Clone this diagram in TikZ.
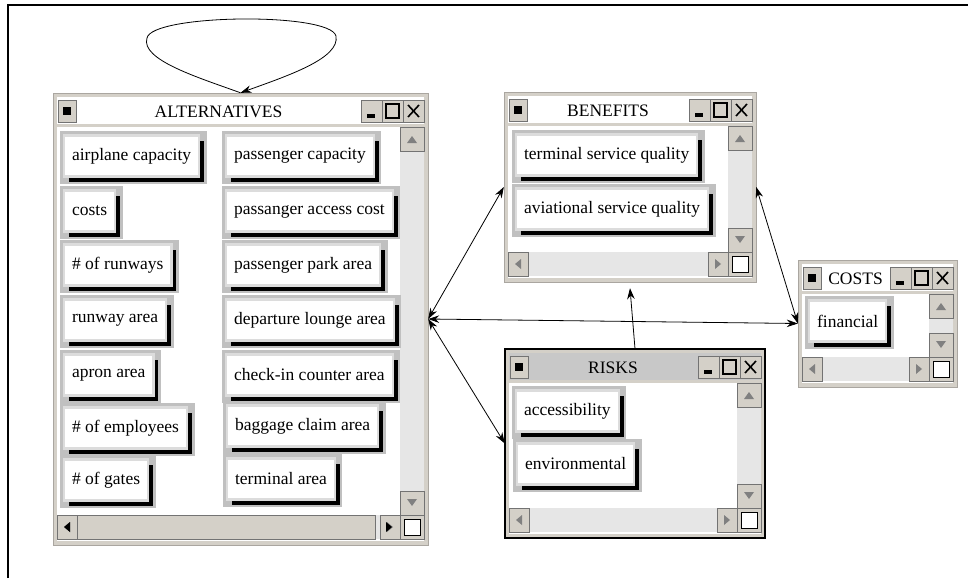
\documentclass[tikz,border=0pt]{standalone}
\usepackage{fontspec}
\setmainfont{Liberation Serif}
\usetikzlibrary{arrows.meta, fit, calc}

\definecolor{winbg}{HTML}{D4D0C8}
\definecolor{panelgray}{HTML}{C0C0C0}
\definecolor{bevelgray}{HTML}{DCDCDC}
\definecolor{trackgray}{HTML}{E6E6E6}
\definecolor{activegray}{HTML}{C8C8C8}

% window chrome: [title bar fill]{name}{left}{top}{right}{bottom}{title}
\newcommand{\appwin}[7][white]{%
	\filldraw[fill=winbg, draw=winbg!80!black, line width=0.8pt] (#3,#4) rectangle (#5,#6);
	\fill[#1] ({#3+4},{#4+4}) rectangle ({#5-4},{#4+31});
	\node[wintitle] (#2-title) at ({(#3+#5)/2-22},{#4+19}) {#7};
	\draw[tinybtn] ({#3+5},{#4+7}) rectangle ({#3+23},{#4+29});
	\fill ({#3+10},{#4+14}) rectangle ({#3+18},{#4+22});
	\draw[tinybtn] ({#5-67},{#4+7}) rectangle ({#5-46},{#4+29});
	\fill ({#5-61},{#4+21}) rectangle ({#5-53},{#4+25});
	\draw[tinybtn] ({#5-46},{#4+7}) rectangle ({#5-25},{#4+29});
	\draw[line width=1.2pt] ({#5-42},{#4+11}) rectangle ({#5-29},{#4+25});
	\draw[tinybtn] ({#5-25},{#4+7}) rectangle ({#5-4},{#4+29});
	\draw[line width=1.6pt] ({#5-20},{#4+12}) -- ({#5-9},{#4+24}) ({#5-20},{#4+24}) -- ({#5-9},{#4+12});
	\fill[white] ({#3+4},{#4+34}) rectangle ({#5-4},{#6-4});
	\fill[trackgray] ({#5-28},{#4+34}) rectangle ({#5-4},{#6-30});
	\fill[trackgray] ({#3+4},{#6-30}) rectangle ({#5-28},{#6-6});
	\draw[tinybtn] ({#5-28},{#4+34}) rectangle ({#5-4},{#4+58});
	\fill[gray] ({#5-21},{#4+50}) -- ({#5-11},{#4+50}) -- ({#5-16},{#4+43}) -- cycle;
	\draw[tinybtn] ({#5-28},{#6-54}) rectangle ({#5-4},{#6-30});
	\fill[gray] ({#5-21},{#6-46}) -- ({#5-11},{#6-46}) -- ({#5-16},{#6-39}) -- cycle;
	\draw[tinybtn] ({#3+4},{#6-30}) rectangle ({#3+24},{#6-6});
	\fill[gray] ({#3+11},{#6-18}) -- ({#3+17},{#6-23}) -- ({#3+17},{#6-13}) -- cycle;
	\draw[tinybtn] ({#5-48},{#6-30}) rectangle ({#5-28},{#6-6});
	\fill[gray] ({#5-35},{#6-18}) -- ({#5-41},{#6-23}) -- ({#5-41},{#6-13}) -- cycle;
	\draw[tinybtn] ({#5-28},{#6-30}) rectangle ({#5-4},{#6-6});
	\filldraw[fill=white, draw=black, line width=1pt] ({#5-24},{#6-26}) rectangle ({#5-8},{#6-10});
	\node[inner sep=0pt, fit={(#3,#4) (#5,#6)}] (#2) {};
}

\begin{document}
\begin{tikzpicture}[x=1pt, y=-1pt,
	wintitle/.style={font=\fontsize{17.5}{20}\selectfont, inner sep=0pt},
	tinybtn/.style={fill=winbg, draw=black!55, line width=0.8pt},
	btn/.style={font=\fontsize{17.5}{20}\selectfont, anchor=west, fill=white, draw=bevelgray,
		line width=2.2pt, inner xsep=8pt, minimum height=41pt,
		preaction={fill=panelgray, draw=panelgray, line width=12pt, transform canvas={shift={(1.5pt,-1.5pt)}}},
		preaction={fill=black, draw=none, transform canvas={shift={(5pt,-5pt)}}}},
	link/.style={line width=0.8pt, >={Stealth[length=11pt, width=7.5pt]}}]
	\useasboundingbox (0,0) rectangle (968,578);
	\draw[line width=2.5pt] (8,578) -- (8,5) -- (968,5);

	% windows
	\appwin{alt}{53}{93}{428}{545}{ALTERNATIVES}
	\draw[tinybtn] (77,515) rectangle (375,539);
	\fill (64,527) -- (70,522) -- (70,532) -- cycle;
	\fill (392,527) -- (386,522) -- (386,532) -- cycle;
	\appwin{ben}{504}{92}{756}{282}{BENEFITS}
	\appwin[activegray]{risk}{505}{349}{765}{538}{RISKS}
	\draw[line width=2.5pt] (505,349) rectangle (765,538);
	\appwin{cost}{798}{260}{957}{387}{COSTS}

	% criteria
	\node[btn] (airCap) at (63,156) {airplane capacity};
	\node[btn] (costs) at (63,211) {costs};
	\node[btn] (runways) at (63,265) {\# of runways};
	\node[btn] (rwyArea) at (63,320) {runway area};
	\node[btn] (apron) at (63,375) {apron area};
	\node[btn] (employees) at (63,428) {\# of employees};
	\node[btn] (gates) at (63,480) {\# of gates};
	\node[btn] (paxCap) at (225,156) {passenger capacity};
	\node[btn] (paxAccess) at (225,211) {passanger access cost};
	\node[btn] (paxPark) at (225,265) {passenger park area};
	\node[btn] (lounge) at (225,320) {departure lounge area};
	\node[btn] (checkin) at (225,375) {check-in counter area};
	\node[btn] (baggage) at (226,426) {baggage claim area};
	\node[btn] (terminal) at (226,479) {terminal area};
	\node[btn] (termQual) at (515,155) {terminal service quality};
	\node[btn] (aviQual) at (515,209) {aviational service quality};
	\node[btn] (access) at (515,411) {accessibility};
	\node[btn] (environ) at (516,464) {environmental};
	\node[btn] (financial) at (808,321) {financial};

	% relations
	\draw[link, ->] (alt.north) .. controls (200,78) and (140,60) .. (147,38)
		.. controls (152,14) and (330,12) .. (336,36)
		.. controls (340,58) and (290,75) .. (alt.north);
	\draw[link, <->] (alt.east) -- (ben.west);
	\draw[link, <->] (alt.east) -- (risk.west);
	\draw[link, <->] (alt.east) -- (cost.west);
	\draw[link, <->] (ben.east) -- (cost.west);
	\draw[link, ->] (risk.north) -- ([yshift=-6pt]ben.south);
\end{tikzpicture}
\end{document}
